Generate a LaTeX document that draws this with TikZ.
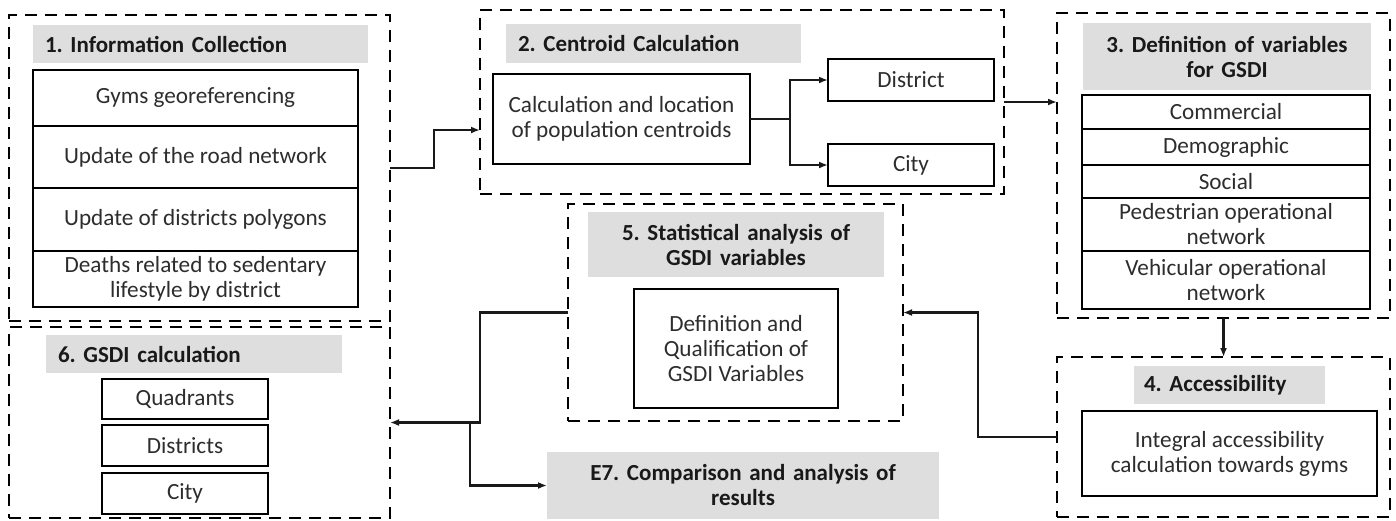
\documentclass[tikz,border=0pt]{standalone}
\usepackage{fontspec}
\setmainfont{Carlito}
\usetikzlibrary{arrows.meta}
\frenchspacing
\definecolor{hdr}{RGB}{222,222,222}
\definecolor{txt}{RGB}{45,45,45}
\newcommand\mkbox[7][]{\node[#1, minimum width={(#5-#3)*1pt}, minimum height={(#6-#4)*1pt}] (#2) at ({(#3+#5)/2},{(#4+#6)/2}) {#7};}
\newcommand\mktitle[7][]{\node[hdrbox, #1, minimum height={(#6-#4)*1pt}, text width={(#5-#3-24)*1pt}] (#2) at ({(#3+#5)/2},{(#4+#6)/2}) {#7};}
\tikzset{
  solidbox/.style={draw=black, line width=2.8pt, inner sep=0pt, outer sep=0pt, align=center, text=txt},
  group/.style={draw=black, line width=2.8pt, dash pattern=on 12pt off 8pt, inner sep=0pt, outer sep=0pt},
  hdrbox/.style={fill=hdr, inner xsep=12pt, inner ysep=0pt, outer sep=0pt, font=\fontsize{23}{25}\selectfont\bfseries, text=black!90},
  link/.style={line width=2.4pt, draw=black!90},
  arr/.style={link, -{Latex[length=9pt,width=7pt]}},
}
\begin{document}
\begin{tikzpicture}[x=1pt, y=-1pt, font=\fontsize{23.2}{25}\selectfont]
\useasboundingbox (0,0) rectangle (1396,520);
% groups
\mkbox[group]{g1}{9}{15}{390}{321}{}
\mkbox[group]{g6}{9}{327}{390}{518}{}
\mkbox[group]{g2}{480}{10}{1004}{194}{}
\mkbox[group]{g3}{1057}{13}{1390}{318}{}
\mkbox[group]{g4}{1057}{357}{1390}{517}{}
\mkbox[group]{g5}{568}{204}{903}{421}{}
% titles
\mktitle[align=left]{t1}{33}{25}{368}{63}{1. Information Collection}
\mktitle[align=left]{t2}{506}{24}{801}{63}{2. Centroid Calculation}
\mktitle[align=center]{t3}{1083}{23}{1371}{90}{3. Definition of variables\\for GSDI}
\mktitle[align=left, inner xsep=10pt]{t4}{1132}{366}{1327}{404}{4. Accessibility}
\mktitle[align=center]{t5}{588}{212}{884}{277}{5. Statistical analysis of\\GSDI variables}
\mktitle[align=left]{t6}{46}{335}{342}{373}{6. GSDI calculation}
\mktitle[align=center]{t7}{547}{452}{939}{519}{E7. Comparison and analysis of\\results}
% boxes
\mkbox[solidbox]{b1a}{33}{70}{358}{126}{Gyms georeferencing}
\mkbox[solidbox]{b1b}{33}{126}{358}{188}{Update of the road network}
\mkbox[solidbox]{b1c}{33}{188}{358}{251}{Update of districts polygons}
\mkbox[solidbox]{b1d}{33}{251}{358}{307}{Deaths related to sedentary\\lifestyle by district}
\mkbox[solidbox]{b2}{493}{74}{750}{164}{Calculation and location\\of population centroids}
\mkbox[solidbox]{b2d}{828}{59}{994}{101}{District}
\mkbox[solidbox]{b2c}{828}{144}{994}{186}{City}
\mkbox[solidbox]{b3a}{1082}{95}{1370}{129}{Commercial}
\mkbox[solidbox]{b3b}{1082}{129}{1370}{165}{Demographic}
\mkbox[solidbox]{b3c}{1082}{165}{1370}{198}{Social}
\mkbox[solidbox]{b3d}{1082}{198}{1370}{251}{Pedestrian operational\\network}
\mkbox[solidbox]{b3e}{1082}{251}{1370}{309}{Vehicular operational\\network}
\mkbox[solidbox]{b4}{1082}{411}{1377}{496}{Integral accessibility\\calculation towards gyms}
\mkbox[solidbox]{b5}{634}{289}{838}{408}{Definition and\\Qualification of\\GSDI Variables}
\mkbox[solidbox]{b6a}{102}{379}{268}{419}{Quadrants}
\mkbox[solidbox]{b6b}{102}{425}{268}{466}{Districts}
\mkbox[solidbox]{b6c}{102}{473}{268}{514}{City}
% connectors
\draw[arr] (g1.east) -- ++(44,0) |- (g2.west |- 0,130);
\coordinate (br) at (790,119);
\draw[link] (b2.east) -- (br);
\draw[arr] (br) |- (b2d.west);
\draw[arr] (br) |- (b2c.west);
\draw[arr] (g2.east) -- (g2.east -| g3.west);
\draw[arr] (g3.south) -- (g4.north);
\draw[arr] (g4.west) -- ++(-79,0) |- (g5.east);
\draw[arr] (g5.west) -- ++(-88,0) |- (g6.east);
\coordinate (br2) at (470,423);
\draw[arr] (br2) |- (t7.west);
\end{tikzpicture}
\end{document}
